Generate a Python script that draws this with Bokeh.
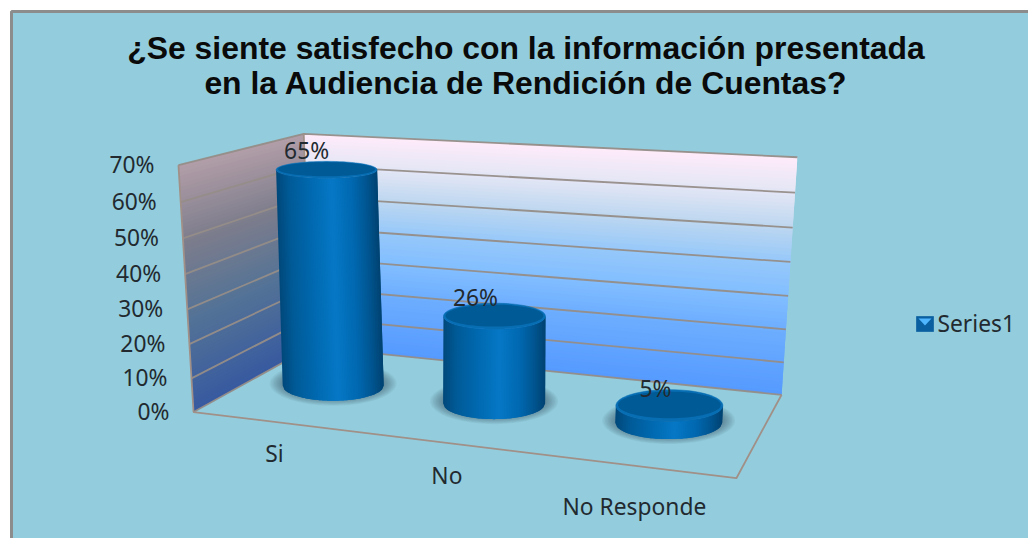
import numpy as np
from bokeh.core.properties import value
from bokeh.embed import file_html
from bokeh.models import ColumnDataSource
from bokeh.plotting import figure
from bokeh.resources import INLINE

# ---- chart content -------------------------------------------------------
title_lines = ["¿Se siente satisfecho con la información presentada",
               "en la Audiencia de Rendición de Cuentas?"]
categories = ["Si", "No", "No Responde"]
series_name = "Series1"
values_pct = [65, 26, 5]
value_labels = ["65%", "26%", "5%"]
ticks_pct = [0, 10, 20, 30, 40, 50, 60, 70]
tick_labels = ["0%", "10%", "20%", "30%", "40%", "50%", "60%", "70%"]

# ---- layout / style ------------------------------------------------------
PANEL = "#93CDDD"
BORDER = "#8C8C8C"
INK = "#222A30"
LABEL_FONT = "Noto Sans"
WMAX = ticks_pct[-1]
NCAT = len(categories)
BAR_HALF_WIDTH = [50.5, 51, 53.5]   # on-screen half width of each cylinder

# 3D camera: fitted on where the box's corners and gridline ends lie on screen
# (u = category position, v = depth, w = axis value) -> (screen x, screen y)
calib = [
    (0, 0, 0, 193, 411), (0, 1, 0, 311, 347), (3, 1, 0, 781, 394), (3, 0, 0, 736, 478),
    (0, 0, 70, 179, 165), (0, 1, 70, 303, 133), (3, 1, 70, 797, 157),
    (0, 0, 35, 186, 291), (3, 1, 30, 788, 295), (3, 1, 10, 783, 362),
    (3, 1, 50, 792, 227), (0, 0, 10, 191, 378), (0, 0, 50, 181, 238),
]
A, b = [], []
for u, v, w, x, y in calib:
    A.append([u, v, w / 70, 1, 0, 0, 0, 0, -x * u, -x * v, -x * w / 70]); b.append(x)
    A.append([0, 0, 0, 0, u, v, w / 70, 1, -y * u, -y * v, -y * w / 70]); b.append(y)
h = np.linalg.lstsq(np.array(A, float), np.array(b, float), rcond=None)[0]


def proj(u, v, w):
    t = w / 70
    d = h[8] * u + h[9] * v + h[10] * t + 1
    return ((h[0] * u + h[1] * v + h[2] * t + h[3]) / d,
            (h[4] * u + h[5] * v + h[6] * t + h[7]) / d)


def mix(stops, f):
    fs = [s[0] for s in stops]
    rgb = [np.interp(f, fs, [s[1][i] for s in stops]) for i in range(3)]
    return "#%02x%02x%02x" % tuple(int(round(c)) for c in rgb)


BACK_STOPS = [(0, (85, 154, 255)), (2 / 7, (110, 174, 255)), (3 / 7, (130, 190, 255)),
              (4 / 7, (150, 200, 250)), (5 / 7, (189, 215, 240)), (6 / 7, (227, 230, 245)),
              (1, (255, 235, 250))]
SIDE_STOPS = [(0, (55, 90, 160)), (0.4, (85, 115, 150)), (0.7, (125, 125, 140)),
              (1, (178, 158, 168))]
BODY_STOPS = [(-1, (0, 72, 122)), (-0.75, (0, 90, 150)), (-0.35, (0, 104, 174)),
              (0.1, (6, 120, 198)), (0.5, (0, 104, 176)), (0.8, (0, 84, 142)),
              (1, (0, 66, 112))]

p = figure(width=1028, height=538, x_range=(0, 1028), y_range=(538, 0),
           toolbar_location=None, output_backend="svg", min_border=0,
           outline_line_color=None, background_fill_color="white",
           border_fill_color="white")
p.xaxis.visible = False
p.yaxis.visible = False
p.grid.visible = False

# chart panel (runs off the right and bottom of the picture)
p.quad(left=[11], right=[1040], top=[11], bottom=[550], fill_color=PANEL,
       line_color=BORDER, line_width=3)

# ---- walls ---------------------------------------------------------------
N = 70
xs, ys, cols = [], [], []
for i in range(N - 1, -1, -1):
    # each strip reaches into the next one, so that no seams show
    w0, w1 = WMAX * i / N, WMAX * (i + 1) / N
    w2 = max(0, w0 - WMAX / N)
    c = mix(BACK_STOPS, (w0 + w1) / 2 / WMAX)
    quad = [proj(0, 1, w2), proj(NCAT, 1, w2), proj(NCAT, 1, w1), proj(0, 1, w1)]
    xs.append([q[0] for q in quad]); ys.append([q[1] for q in quad]); cols.append(c)
    c = mix(SIDE_STOPS, (w0 + w1) / 2 / WMAX)
    quad = [proj(0, 0, w2), proj(0, 1, w2), proj(0, 1, w1), proj(0, 0, w1)]
    xs.append([q[0] for q in quad]); ys.append([q[1] for q in quad]); cols.append(c)
p.patches(xs, ys, fill_color=cols, line_color=None)

# gridlines on both walls
gx, gy = [], []
for t in ticks_pct:
    pts = [proj(0, 0, t), proj(0, 1, t), proj(NCAT, 1, t)]
    gx.append([q[0] for q in pts]); gy.append([q[1] for q in pts])
p.multi_line(gx, gy, line_color="#958D88", line_width=1.8, line_alpha=0.95)

# box edges
edges = [[proj(0, 0, WMAX), proj(0, 0, 0), proj(NCAT, 0, 0), proj(NCAT, 1, 0)],
         [proj(0, 1, 0), proj(0, 1, WMAX)]]
p.multi_line([[q[0] for q in e] for e in edges], [[q[1] for q in e] for e in edges],
             line_color="#A09088", line_width=1.8)

# ---- cylinders -----------------------------------------------------------
RADIUS = 0.29


def flat(y):
    # how open an ellipse looks at this height on screen
    return 8.5 + 0.0316 * (y - 171)


def ring(cx, cy, rx, ry, n=72):
    a = np.linspace(0, 2 * np.pi, n, endpoint=False)
    return list(cx + rx * np.cos(a)), list(cy + ry * np.sin(a))


sh_x, sh_y = [], []
body_x, body_y, body_c = [], [], []
rim_x, rim_y, cap_x, cap_y = [], [], [], []
tops = []
for i, val in enumerate(values_pct):
    u = i + 0.5
    lb, rb = proj(u - RADIUS, 0.5, 0), proj(u + RADIUS, 0.5, 0)
    lt, rt = proj(u - RADIUS, 0.5, val), proj(u + RADIUS, 0.5, val)
    bx, by = (lb[0] + rb[0]) / 2, (lb[1] + rb[1]) / 2
    tx, ty = (lt[0] + rt[0]) / 2, (lt[1] + rt[1]) / 2
    brx = trx = BAR_HALF_WIDTH[i]
    bry, try_ = flat(by), flat(ty)
    tops.append((tx, ty))
    for s in np.linspace(1.0, 0.1, 9):
        a, c = ring(bx, by - 2, brx + 13 * s, bry + 7 * s)
        sh_x.append(a); sh_y.append(c)
    ts = np.linspace(-1, 1, 61)
    strip = ts[1] - ts[0]
    for t0, t1 in zip(ts[:-1], ts[1:]):
        t2 = min(1.0, t1 + strip)   # overlap the next strip, so that no seams show
        s0, s2 = np.sqrt(max(0, 1 - t0 * t0)), np.sqrt(max(0, 1 - t2 * t2))
        mid = np.sqrt(max(0, 1 - t1 * t1))
        body_x.append([tx + t0 * trx, tx + t1 * trx, tx + t2 * trx,
                       bx + t2 * brx, bx + t1 * brx, bx + t0 * brx])
        body_y.append([ty + try_ * s0, ty + try_ * mid, ty + try_ * s2,
                       by + bry * s2, by + bry * mid, by + bry * s0])
        body_c.append(mix(BODY_STOPS, (t0 + t1) / 2))
    a, c = ring(tx, ty, trx, try_)
    rim_x.append(a); rim_y.append(c)
    a, c = ring(tx, ty - 0.6, trx * 0.96, try_ * 0.84)
    cap_x.append(a); cap_y.append(c)

p.patches(sh_x, sh_y, fill_color="#1E3C46", fill_alpha=0.055, line_color=None)
p.patches(body_x, body_y, fill_color=body_c, line_color=None)
p.patches(rim_x, rim_y, fill_color="#086EB4", line_color="#086EB4", line_width=0.5)
p.patches(cap_x, cap_y, fill_color="#005A96", line_color=None)

# ---- texts ---------------------------------------------------------------
title_src = ColumnDataSource(dict(x=[525.5, 525.5], y=[47, 82], t=title_lines))
p.text("x", "y", "t", source=title_src, text_font=value("Liberation Sans"),
       text_font_style="bold", text_font_size="31.9px", text_align="center",
       text_baseline="middle", text_color="#0A0A0A")

TEXT_KW = dict(text_font=value(LABEL_FONT), text_font_size="22.8px", text_color=INK,
               text_baseline="middle")
tick_anchor = [proj(0, 0, t) for t in ticks_pct]
p.text([q[0] - 24 for q in tick_anchor], [q[1] - 0.5 for q in tick_anchor], tick_labels,
       text_align="right", **TEXT_KW)

cat_offsets = [(0, 31.5), (0, 32.5), (-1, 40.5)]
cat_anchor = [proj(i + 0.5, 0, 0) for i in range(NCAT)]
p.text([q[0] + o[0] for q, o in zip(cat_anchor, cat_offsets)],
       [q[1] + o[1] for q, o in zip(cat_anchor, cat_offsets)], categories,
       text_align="center", **TEXT_KW)

val_offsets = [(-20, -19), (-19, -18.5), (-14, -17.5)]
p.text([q[0] + o[0] for q, o in zip(tops, val_offsets)],
       [q[1] + o[1] for q, o in zip(tops, val_offsets)], value_labels,
       text_align="center", **TEXT_KW)

# ---- legend key and name -------------------------------------------------
KEY_L, KEY_R, KEY_T, KEY_B = 916, 933, 316, 331
p.quad(left=[KEY_L], right=[KEY_R], top=[KEY_T], bottom=[KEY_B], fill_color="#0A5FA0",
       line_color="#1F6FA8", line_width=1)
p.patches([[KEY_L + 2, KEY_R - 2, (KEY_L + KEY_R) / 2]],
          [[KEY_T + 2, KEY_T + 2, KEY_T + 9]], fill_color="#4FB6FF", line_color=None)
p.text([KEY_R + 4], [323], [series_name], text_align="left", **TEXT_KW)

open("out.html", "w").write(file_html(p, INLINE))
